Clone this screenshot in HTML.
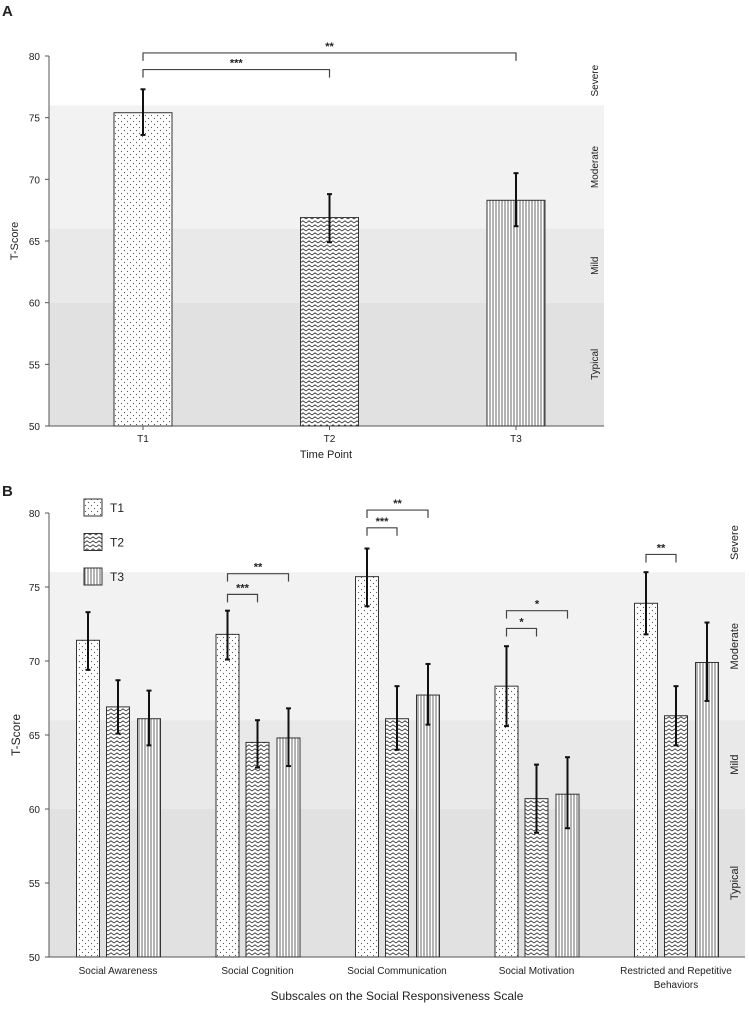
<!DOCTYPE html>
<html><head><meta charset="utf-8"><style>
body{margin:0;background:#fff;}
svg text{font-family:"Liberation Sans",sans-serif;fill:#222;}
</style></head><body>
<svg width="749" height="1010" viewBox="0 0 749 1010" xmlns="http://www.w3.org/2000/svg">
<defs>
<pattern id="pDots" width="6" height="6" patternUnits="userSpaceOnUse"><rect width="6" height="6" fill="#fff"/><circle cx="1.5" cy="1.5" r="0.6" fill="#555"/><circle cx="4.5" cy="4.5" r="0.6" fill="#555"/></pattern>
<pattern id="pZig" width="6" height="4" patternUnits="userSpaceOnUse"><rect width="6" height="4" fill="#fff"/><path d="M0 3 L3 0.8 L6 3" stroke="#333" stroke-width="0.9" fill="none"/></pattern>
<pattern id="pVert" width="3" height="4" patternUnits="userSpaceOnUse"><rect width="3" height="4" fill="#fff"/><line x1="1" y1="0" x2="1" y2="4" stroke="#444" stroke-width="0.8"/></pattern>
</defs>
<text x="2" y="16" font-size="15" font-weight="bold">A</text>
<text x="2" y="496" font-size="15" font-weight="bold">B</text>
<g id="chartA"></g>
<g id="chartB"></g>
</svg>
<script>
const NS="http://www.w3.org/2000/svg";
// ---- Chart A data ----
const aCats=["T1","T2","T3"];
const aVals=[75.4,66.9,68.3];
const aLo=[73.6,64.9,66.2];
const aHi=[77.3,68.8,70.5];
const aTicks=[50,55,60,65,70,75,80];
const aSig=[{from:0,to:1,level:78.9,label:"***"},{from:0,to:2,level:80.25,label:"**"}];
// ---- Chart B data ----
const bCats=["Social Awareness","Social Cognition","Social Communication","Social Motivation","Restricted and Repetitive|Behaviors"];
const bT1=[71.4,71.8,75.7,68.3,73.9];
const bT2=[66.9,64.5,66.1,60.7,66.3];
const bT3=[66.1,64.8,67.7,61.0,69.9];
const bT1lo=[69.4,70.1,73.7,65.6,71.8];
const bT1hi=[73.3,73.4,77.6,71.0,76.0];
const bT2lo=[65.1,62.8,64.0,58.4,64.3];
const bT2hi=[68.7,66.0,68.3,63.0,68.3];
const bT3lo=[64.3,62.9,65.7,58.7,67.3];
const bT3hi=[68.0,66.8,69.8,63.5,72.6];
const bTicks=[50,55,60,65,70,75,80];
const bSig=[{g:1,from:0,to:1,level:74.5,label:"***"},{g:1,from:0,to:2,level:75.9,label:"**"},
{g:2,from:0,to:1,level:79.0,label:"***"},{g:2,from:0,to:2,level:80.2,label:"**"},
{g:3,from:0,to:1,level:72.2,label:"*"},{g:3,from:0,to:2,level:73.4,label:"*"},
{g:4,from:0,to:1,level:77.2,label:"**"}];
const bands=[{lo:66,hi:76,c:"#f2f2f2",name:"Moderate"},{lo:60,hi:66,c:"#e9e9e9",name:"Mild"},{lo:50,hi:60,c:"#e1e1e1",name:"Typical"}];
const bandLabels=[{name:"Severe",lo:76,hi:80},{name:"Moderate",lo:66,hi:76},{name:"Mild",lo:60,hi:66},{name:"Typical",lo:50,hi:60}];
const fills=["url(#pDots)","url(#pZig)","url(#pVert)"];

function mk(tag,attrs,parent,text){const e=document.createElementNS(NS,tag);for(const k in attrs)e.setAttribute(k,attrs[k]);if(text!==undefined)e.textContent=text;parent.appendChild(e);return e;}

function drawAxisFrame(g,x0,x1,y,ticks,bandLabelX,fs){
  bands.forEach(b=>{const r=mk("rect",{x:x0,y:y(b.hi),width:x1-x0,height:y(b.lo)-y(b.hi),fill:b.c},g);
    
    });
  bandLabels.forEach(b=>{const cy=(y(b.lo)+y(b.hi))/2;const t=mk("text",{x:bandLabelX,y:cy,"font-size":fs,"text-anchor":"middle",transform:`rotate(-90 ${bandLabelX} ${cy})`},g,b.name);
    
    });
  const ax=mk("line",{x1:x0,y1:y(80),x2:x0,y2:y(50),stroke:"#555","stroke-width":1},g);
  
  
  const xa=mk("line",{x1:x0,y1:y(50),x2:x1,y2:y(50),stroke:"#555","stroke-width":1},g);
  
  
  ticks.forEach(v=>{mk("line",{x1:x0-4,y1:y(v),x2:x0,y2:y(v),stroke:"#555"},g);
    const t=mk("text",{x:x0-9,y:y(v)+4,"font-size":10,"text-anchor":"end"},g,v);
    
    });
}
function bar(g,cx,w,v,lo,hi,fill,y,name){
  const r=mk("rect",{x:cx-w/2,y:y(v),width:w,height:y(50)-y(v),fill:fill,stroke:"#333","stroke-width":1},g);
  
  
  const e=mk("g",{stroke:"#111","stroke-width":2},g);
  
  
  mk("line",{x1:cx,y1:y(hi),x2:cx,y2:y(lo)},e);
  mk("line",{x1:cx-2.5,y1:y(hi),x2:cx+2.5,y2:y(hi)},e);
  mk("line",{x1:cx-2.5,y1:y(lo),x2:cx+2.5,y2:y(lo)},e);
}
function bracket(g,xa,xb,yy,label,fs){
  const p=mk("path",{d:`M${xa} ${yy+8} V${yy} H${xb} V${yy+8}`,fill:"none",stroke:"#444","stroke-width":1.2},g);
  
  
  const t=mk("text",{x:(xa+xb)/2,y:yy-3,"font-size":fs,"font-weight":"bold","text-anchor":"middle"},g,label);
  
  
}
// ---- Chart A ----
(function(){
  const g=document.getElementById("chartA");
  const x0=49,x1=604,yTop=56,yBot=426;
  const y=v=>yBot-(v-50)/30*(yBot-yTop);
  const cx=i=>143+i*186.5;
  drawAxisFrame(g,x0,x1,y,aTicks,598,10);
  aCats.forEach((c,i)=>{bar(g,cx(i),58,aVals[i],aLo[i],aHi[i],fills[i],y,'bar-'+c.toLowerCase());
    mk("line",{x1:cx(i),y1:yBot,x2:cx(i),y2:yBot+4,stroke:"#555"},g);
    const t=mk("text",{x:cx(i),y:yBot+16,"font-size":10,"text-anchor":"middle"},g,c);
    
    });
  aSig.forEach(s=>bracket(g,cx(s.from),cx(s.to),y(s.level),s.label,11));
  const yt=mk("text",{x:18,y:241,"font-size":11,"text-anchor":"middle",transform:"rotate(-90 18 241)"},g,"T-Score");
  
  
  const xt=mk("text",{x:326,y:458,"font-size":11,"text-anchor":"middle"},g,"Time Point");
  
  
})();
// ---- Chart B ----
(function(){
  const g=document.getElementById("chartB");
  const x0=49,x1=745,yTop=513,yBot=957;
  const y=v=>yBot-(v-50)/30*(yBot-yTop);
  const gc=i=>118+i*139.5;
  const off=[-30,0,31];
  drawAxisFrame(g,x0,x1,y,bTicks,738,11);
  const series=[[bT1,bT1lo,bT1hi],[bT2,bT2lo,bT2hi],[bT3,bT3lo,bT3hi]];
  bCats.forEach((c,i)=>{
    series.forEach((s,k)=>bar(g,gc(i)+off[k],23,s[0][i],s[1][i],s[2][i],fills[k],y,'bar-g'+(i+1)+'-t'+(k+1)));
    const lines=c.split("|");
    lines.forEach((ln,j)=>{const t=mk("text",{x:gc(i),y:yBot+17+j*14,"font-size":10,"text-anchor":"middle"},g,ln);
      
      });
  });
  bSig.forEach(s=>bracket(g,gc(s.g)+off[s.from],gc(s.g)+off[s.to],y(s.level),s.label,11));
  const yt=mk("text",{x:20,y:735,"font-size":12,"text-anchor":"middle",transform:"rotate(-90 20 735)"},g,"T-Score");
  
  
  const xt=mk("text",{x:397,y:1000,"font-size":12,"text-anchor":"middle"},g,"Subscales on the Social Responsiveness Scale");
  
  
  ["T1","T2","T3"].forEach((n,k)=>{const ly=499+k*34.5;
    const r=mk("rect",{x:84,y:ly,width:18,height:17,fill:fills[k],stroke:"#333"},g);
    
    
    const t=mk("text",{x:110,y:ly+13,"font-size":12},g,n);
    
    });
})();
</script>
</body></html>
